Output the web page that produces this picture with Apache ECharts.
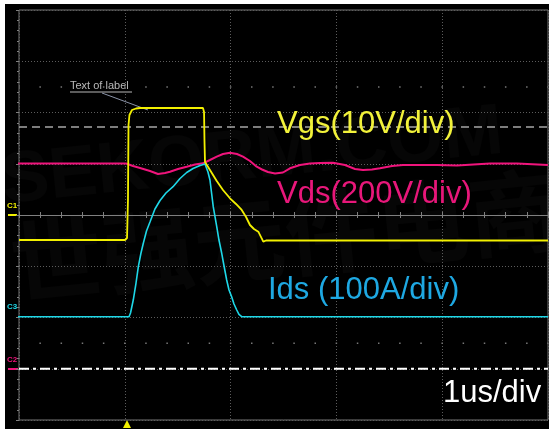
<!DOCTYPE html>
<html>
<head>
<meta charset="utf-8">
<script src="https://cdn.jsdelivr.net/npm/echarts@6/dist/echarts.min.js"></script>
<style>
  html, body { margin: 0; padding: 0; background: #fff; }
  #chart { position: absolute; left: 5px; top: 4px; width: 544px; height: 425px; background: #000; }
</style>
</head>
<body>
<div id="chart"></div>
<script>
// time in us (1us/div), amplitude in divisions from screen centre
const vgsTime = [0, 1.002, 1.021, 1.030, 1.035, 1.044, 1.068, 1.106, 1.144, 1.739, 1.749, 1.753, 1.758, 1.765, 1.805, 1.869, 1.928, 1.994, 2.051, 2.105, 2.146, 2.183, 2.221, 2.262, 2.294, 2.309, 2.335, 5]
const vgsDiv = [-0.488, -0.488, -0.449, 0.293, 1.756, 1.951, 2.049, 2.078, 2.088, 2.088, 2.010, 1.463, 1.034, 1.015, 0.878, 0.663, 0.488, 0.326, 0.215, 0.098, -0.039, -0.195, -0.273, -0.326, -0.455, -0.521, -0.498, -0.498]

const vdsTime = [-0.104, 1.011, 1.078, 1.144, 1.238, 1.314, 1.380, 1.427, 1.503, 1.585, 1.664, 1.739, 1.805, 1.869, 1.928, 1.994, 2.060, 2.117, 2.183, 2.247, 2.297, 2.353, 2.420, 2.495, 2.561, 2.656, 2.750, 2.845, 2.968, 3.081, 3.176, 3.251, 3.336, 3.412, 3.526, 3.629, 3.951, 4.140, 4.452, 4.707, 5]
const vdsDiv = [1.005, 1.005, 0.956, 0.917, 0.859, 0.800, 0.820, 0.845, 0.898, 0.942, 0.985, 1.009, 1.073, 1.138, 1.190, 1.216, 1.190, 1.138, 1.054, 0.942, 0.888, 0.839, 0.810, 0.829, 0.911, 0.976, 1.005, 1.015, 1.020, 0.976, 0.898, 0.878, 0.888, 0.911, 0.956, 0.976, 0.976, 0.966, 1.005, 1.005, 0.976]

const idsTime = [-0.104, 1.040, 1.054, 1.080, 1.106, 1.128, 1.153, 1.175, 1.205, 1.238, 1.285, 1.333, 1.389, 1.456, 1.522, 1.585, 1.645, 1.711, 1.758, 1.767, 1.786, 1.805, 1.836, 1.869, 1.890, 1.916, 1.938, 1.963, 1.985, 2.010, 2.032, 2.058, 2.079, 2.105, 5]
const idsDiv = [-1.984, -1.984, -1.912, -1.659, -1.327, -1.009, -0.741, -0.552, -0.312, -0.137, 0.117, 0.283, 0.429, 0.552, 0.712, 0.829, 0.907, 0.966, 0.995, 0.985, 0.839, 0.683, 0.162, -0.228, -0.488, -0.747, -0.995, -1.268, -1.463, -1.594, -1.737, -1.854, -1.941, -1.984, -1.984]

const refLevel = 1.717      // grey dashed marker
const c2Ground = -3         // dash-dot ground of channel 2
const dotRows = [2.5, -2.5]

const zip = (xs, ys) => xs.map((x, i) => [x, ys[i]])
const hline = (y) => [[0, y], [5, y]]

const chart = echarts.init(document.getElementById('chart'))

const gridColor = '#5c5c5c'
const captionFont = '31px "Liberation Sans"'

const option = {
  animation: false,
  backgroundColor: '#000',
  grid: { left: 14, top: 6, width: 529, height: 410, show: true, borderColor: '#777', borderWidth: 1, backgroundColor: 'transparent' },
  xAxis: [
    {
      type: 'value', min: 0, max: 5, interval: 1, position: 'bottom',
      axisLine: { show: true, onZero: true, lineStyle: { color: '#808080', width: 1 } },
      axisTick: { show: true, length: 3, lineStyle: { color: '#808080' } },
      minorTick: { show: true, splitNumber: 5, length: 3, lineStyle: { color: '#808080' } },
      axisLabel: { show: false },
      splitLine: { show: true, lineStyle: { color: gridColor, type: [1, 2] } }
    },
    {
      type: 'value', min: 0, max: 5, interval: 1, position: 'top',
      axisLine: { show: true, onZero: true, lineStyle: { color: '#808080', width: 1 } },
      axisTick: { show: true, length: 3, lineStyle: { color: '#808080' } },
      minorTick: { show: true, splitNumber: 5, length: 3, lineStyle: { color: '#808080' } },
      axisLabel: { show: false },
      splitLine: { show: false }
    }
  ],
  yAxis: [
    {
      type: 'value', min: -4, max: 4, interval: 1, position: 'left',
      axisLine: { show: false }, axisTick: { show: false }, axisLabel: { show: false },
      splitLine: { show: true, lineStyle: { color: gridColor, type: [1, 2] } }
    },
    {
      type: 'value', min: -4, max: 4, interval: 1, position: 'right',
      axisLine: { show: false },
      axisTick: { show: true, inside: true, length: 3, lineStyle: { color: '#808080' } },
      minorTick: { show: true, splitNumber: 5, length: 2, lineStyle: { color: '#808080' } },
      axisLabel: { show: false },
      splitLine: { show: false }
    }
  ],
  series: [
    {
      name: 'ref', type: 'line', data: hline(refLevel), showSymbol: false, silent: true,
      lineStyle: { color: '#a6a6a6', width: 1.5, type: [8, 5] }
    },
    ...dotRows.map(y => ({
      type: 'line', data: hline(y), showSymbol: false, silent: true,
      lineStyle: { color: '#777', width: 1.5, type: [1.5, 19.66], dashOffset: 0.75 }
    })),
    {
      name: 'C2 ground', type: 'line', data: hline(c2Ground), showSymbol: false, silent: true,
      lineStyle: { color: '#fff', width: 2, type: [10, 4, 3, 4] }
    },
    {
      name: 'Vds', type: 'line', data: zip(vdsTime, vdsDiv), showSymbol: false, clip: false,
      lineStyle: { color: '#f0147c', width: 2 }
    },
    {
      name: 'Ids', type: 'line', data: zip(idsTime, idsDiv), showSymbol: false, clip: false,
      lineStyle: { color: '#1ed8e8', width: 1.6 }
    },
    {
      name: 'Vgs', type: 'line', data: zip(vgsTime, vgsDiv), showSymbol: false, clip: false,
      lineStyle: { color: '#f2f000', width: 1.8 }
    }
  ],
  graphic: [
    // faint watermark
    { type: 'text', z: -5, silent: true, x: 0, y: 215, rotation: 0.1,
      style: { text: 'SEKORM.COM', font: 'bold 72px "Liberation Sans"', fill: 'rgba(255,255,255,0.025)', verticalAlign: 'bottom' } },
    { type: 'text', z: -5, silent: true, x: 10, y: 305, rotation: 0.1,
      style: { text: '世强元件电商', font: 'bold 92px "Noto Sans CJK SC"', fill: 'rgba(255,255,255,0.025)', verticalAlign: 'bottom' } },

    // channel markers
    { type: 'text', x: 2, y: 202, style: { text: 'C1', font: 'bold 8px "Liberation Sans"', fill: '#f2f000', verticalAlign: 'middle' } },
    { type: 'line', shape: { x1: 3, y1: 211, x2: 12, y2: 211 }, style: { stroke: '#f2f000', lineWidth: 2 } },
    { type: 'text', x: 2, y: 303, style: { text: 'C3', font: 'bold 8px "Liberation Sans"', fill: '#1ed8e8', verticalAlign: 'middle' } },
    { type: 'text', x: 2, y: 356, style: { text: 'C2', font: 'bold 8px "Liberation Sans"', fill: '#f0147c', verticalAlign: 'middle' } },
    { type: 'line', shape: { x1: 3, y1: 365, x2: 13, y2: 365 }, style: { stroke: '#f0147c', lineWidth: 2 } },
    { type: 'polygon', shape: { points: [[122, 416], [118, 424], [126, 424]] }, style: { fill: '#f2f000' } },

    // label callout
    { type: 'text', x: 65, y: 82, style: { text: 'Text of label', font: '11px "Liberation Sans"', fill: '#b8b8b8', verticalAlign: 'middle' } },
    { type: 'line', shape: { x1: 65, y1: 88, x2: 127, y2: 88 }, style: { stroke: '#b8b8b8', lineWidth: 1 } },
    { type: 'line', shape: { x1: 97, y1: 89, x2: 143, y2: 106 }, style: { stroke: '#8a93a8', lineWidth: 1 } },

    // channel scale captions
    { type: 'text', x: 272, y: 120, z: 10, style: { text: 'Vgs(10V/div)', font: captionFont, fill: '#f2f23a', verticalAlign: 'middle' } },
    { type: 'text', x: 272, y: 190, z: 10, style: { text: 'Vds(200V/div)', font: captionFont, fill: '#e8177a', verticalAlign: 'middle' } },
    { type: 'text', x: 263, y: 286, z: 10, style: { text: 'Ids (100A/div)', font: captionFont, fill: '#1ea8e2', verticalAlign: 'middle' } },
    { type: 'text', x: 438, y: 389, z: 10, style: { text: '1us/div', font: captionFont, fill: '#ffffff', verticalAlign: 'middle' } }
  ]
}

chart.setOption(option)

window.addEventListener('resize', () => {
  chart.resize()
})
</script>
</body>
</html>
